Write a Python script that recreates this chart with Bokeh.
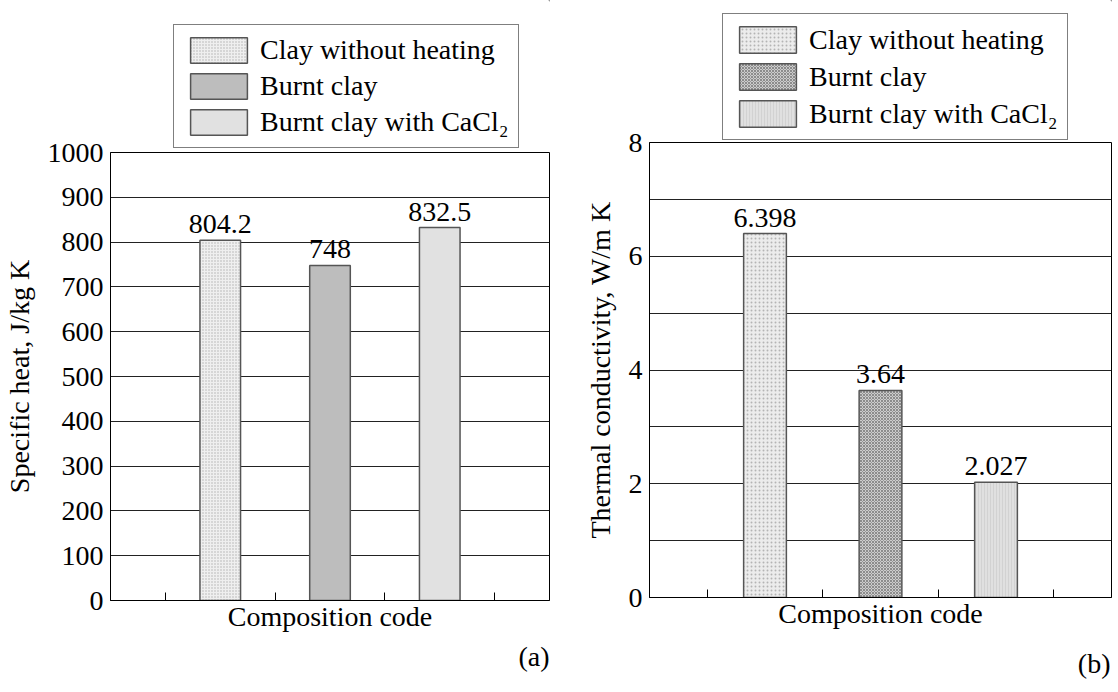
from bokeh.plotting import figure
from bokeh.layouts import row, column
from bokeh.models import Legend, LegendItem, Title, FixedTicker, ColumnDataSource
from bokeh.embed import file_html
from bokeh.resources import INLINE
from bokeh.core.properties import value

# ---- data ----
categories = ["Clay without heating", "Burnt clay", "Burnt clay with CaCl\u2082"]
specific_heat = [804.2, 748, 832.5]          # J/kg K
thermal_conductivity = [6.398, 3.64, 2.027]  # W/m K
heat_ticks = [0, 100, 200, 300, 400, 500, 600, 700, 800, 900, 1000]
cond_ticks = [0, 2, 4, 6, 8]
cond_grid = [0, 1, 2, 3, 4, 5, 6, 7, 8]
x_ticks = [0.5, 1.5, 2.5, 3.5]

FONT = "Liberation Serif"
FS = "28px"
LEG_H = 150


def make_panel(values, ylabel, yrange, yticks, ygrid, styles, fig_w, overlap, borders,
               leg_xy, leg_glyph_h, tag, tag_offset, tag_standoff):
    xs = [i + 1 for i in range(len(values))]
    src = ColumnDataSource(dict(
        x=xs, top=values, label=categories,
        txt=[f"{v:g}" for v in values],
        fill=[s[0] for s in styles], hatch=[s[1] for s in styles],
        hcolor=[s[2] for s in styles], hscale=[s[3] for s in styles],
    ))
    bar_kw = dict(x="x", top="top", width=0.37, source=src,
                  fill_color="fill", hatch_pattern="hatch", hatch_color="hcolor",
                  hatch_scale="hscale", hatch_weight=1,
                  line_color="#555555", line_width=1.5)

    # ---- legend strip (own figure, so the legend is not clipped) ----
    lf = figure(width=fig_w, height=LEG_H, x_range=(-30, -20), y_range=(-30, -20),
                output_backend="svg", toolbar_location=None,
                x_axis_location=None, y_axis_location=None,
                min_border_left=0, min_border_right=0,
                min_border_top=0, min_border_bottom=0)
    lf.outline_line_color = None
    lf.grid.visible = False
    lr = lf.vbar(**bar_kw)
    items = [LegendItem(label=categories[i], renderers=[lr], index=i)
             for i in range(len(categories))]
    leg = Legend(items=items, location=leg_xy, orientation="vertical",
                 glyph_width=71, glyph_height=leg_glyph_h, label_height=leg_glyph_h,
                 label_standoff=6, spacing=4, padding=9, margin=0,
                 label_text_font=FONT, label_text_font_size=FS,
                 label_text_color="black",
                 border_line_color="black", border_line_width=1,
                 background_fill_color="white", background_fill_alpha=1)
    lf.add_layout(leg, "center")

    # ---- main plot (its transparent top border overlaps the legend strip) ----
    bl, br, bt, bb = borders
    p = figure(width=fig_w, height=692 - LEG_H + overlap, x_range=(0, 4), y_range=yrange,
               output_backend="svg", toolbar_location=None,
               min_border_left=bl, min_border_right=br,
               min_border_top=bt, min_border_bottom=bb)
    p.margin = (-overlap, 0, 0, 0)
    p.border_fill_color = None
    p.outline_line_color = "black"
    p.outline_line_width = 1
    p.xgrid.grid_line_color = None
    p.ygrid.ticker = FixedTicker(ticks=ygrid)
    p.ygrid.grid_line_color = "#222222"
    p.ygrid.grid_line_width = 1

    p.vbar(**bar_kw)
    p.text(x="x", y="top", text="txt", source=src, y_offset=-16,
           text_align="center", text_baseline="alphabetic",
           text_font=value(FONT), text_font_size=FS, text_color="black")

    ya = p.yaxis[0]
    ya.ticker = FixedTicker(ticks=yticks)
    ya.major_tick_in = 0
    ya.major_tick_out = 0
    ya.minor_tick_in = 0
    ya.minor_tick_out = 0
    ya.major_label_standoff = 7
    ya.axis_label = ylabel
    ya.axis_label_standoff = 10
    ya.major_label_text_font_size = FS
    xa = p.xaxis[0]
    xa.ticker = FixedTicker(ticks=x_ticks)
    xa.major_tick_in = 8
    xa.major_tick_out = 0
    xa.minor_tick_in = 0
    xa.minor_tick_out = 0
    xa.major_label_text_font_size = "0px"
    xa.major_label_standoff = 0
    xa.axis_label = "Composition code"
    xa.axis_label_standoff = 0
    for ax in (xa, ya):
        ax.axis_line_color = "black"
        ax.major_tick_line_color = "black"
        ax.major_label_text_font = FONT
        ax.major_label_text_color = "black"
        ax.axis_label_text_font = FONT
        ax.axis_label_text_font_size = FS
        ax.axis_label_text_font_style = "normal"
        ax.axis_label_text_color = "black"

    t = Title(text=tag, align="right", offset=tag_offset, standoff=tag_standoff,
              text_font=FONT, text_font_size=FS, text_font_style="normal",
              text_color="black")
    p.add_layout(t, "below")
    return column(lf, p)


styles_a = [("#efefef", ".", "#b0b0b0", 3),
            ("#bdbdbd", " ", "#bdbdbd", 4),
            ("#e1e1e1", " ", "#e1e1e1", 4)]
styles_b = [("#ececec", ".", "#b4b4b4", 4),
            ("#cccccc", "x", "#8c8c8c", 3),
            ("#e0e0e0", "|", "#d2d2d2", 3)]

c1 = make_panel(specific_heat, "Specific heat, J/kg K", (0, 1000), heat_ticks,
                heat_ticks, styles_a, 565, 20, (108, 16, 22, 92),
                (63, 2), 32, "(a)", 0, 8)
c2 = make_panel(thermal_conductivity, "Thermal conductivity, W/m K", (0, 8), cond_ticks,
                cond_grid, styles_b, 553, 30, (84, 7, 22, 94),
                (73, 10), 33, "(b)", 1, 28)

layout = row(c1, c2)
open("out.html", "w").write(file_html(layout, INLINE))
